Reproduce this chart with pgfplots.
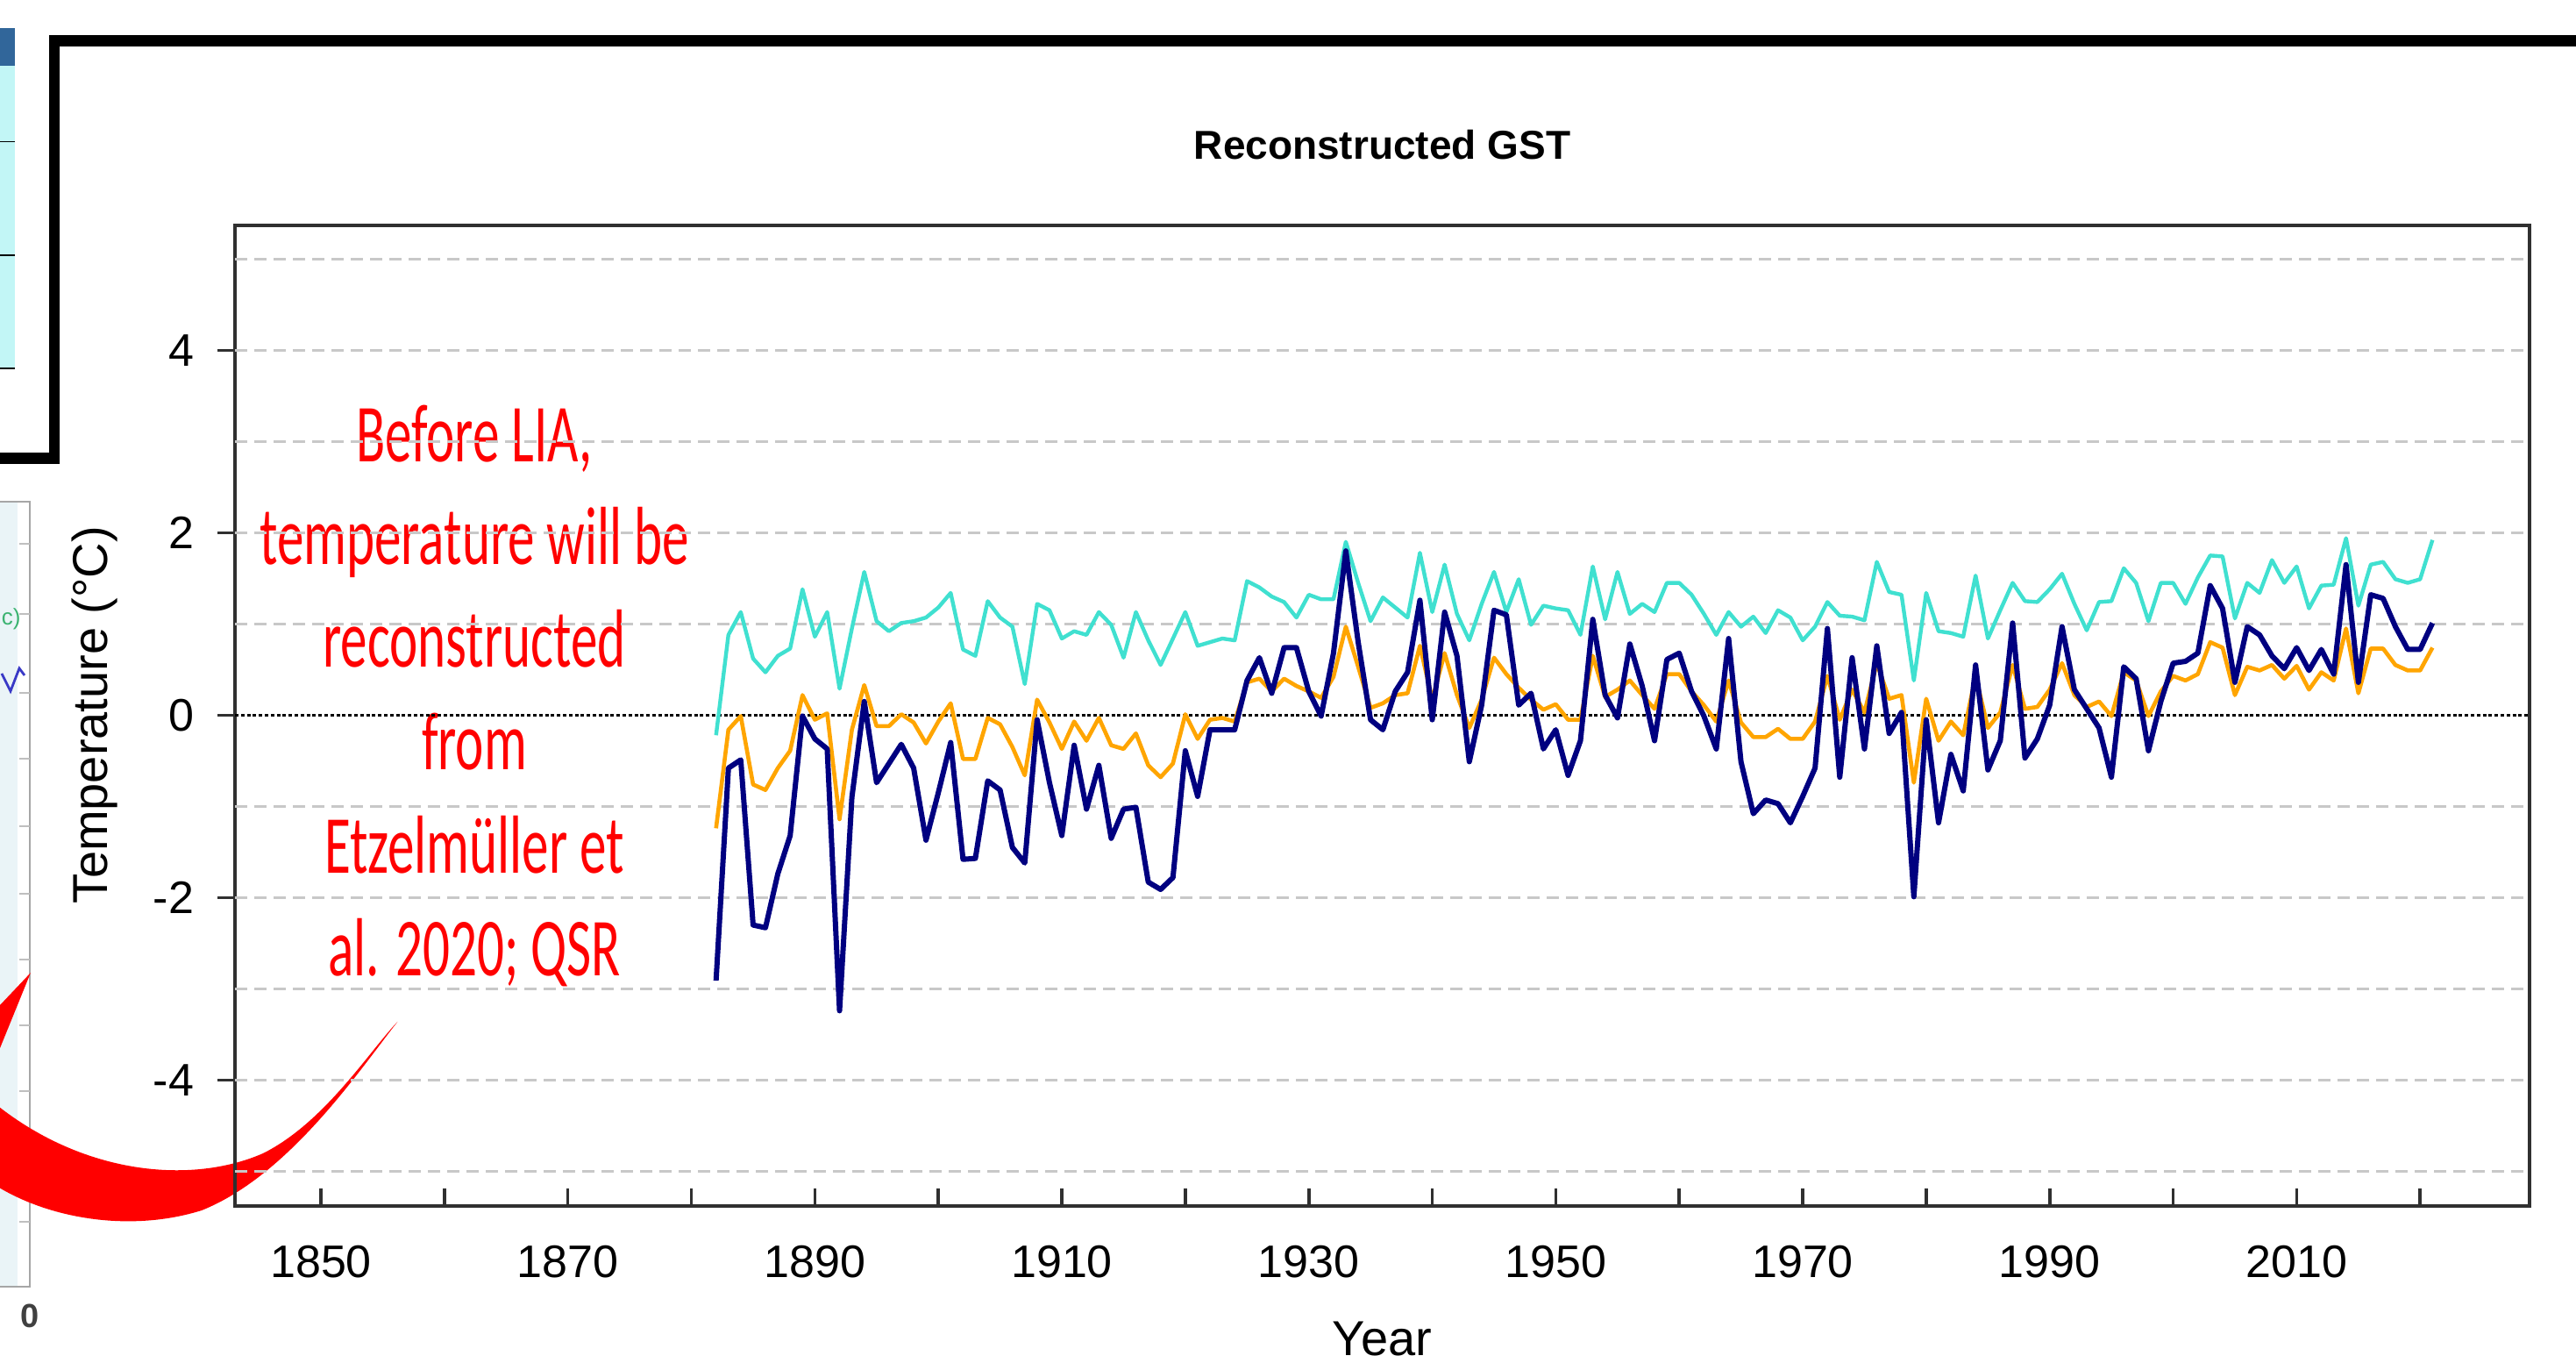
\documentclass[border=0pt]{standalone}
\usepackage{pgfplots}
\pgfplotsset{compat=1.18}
\usepackage{pgfplotstable}
\usepackage{fontspec}
\setmainfont{Liberation Sans}
\newfontfamily\redfont{Carlito}
\definecolor{cturq}{HTML}{40E0D0}
\definecolor{corange}{HTML}{FFA500}
\definecolor{cnavy}{HTML}{000080}
\definecolor{axgray}{HTML}{303030}
\definecolor{gridgray}{HTML}{C8C8C8}
\definecolor{hdrblue}{HTML}{31669A}
\definecolor{cellcyan}{HTML}{C2F6F6}
\definecolor{panelbg}{HTML}{EAF4F7}
\definecolor{cgreen}{HTML}{3CB371}

\pgfplotstableread{
year c o n
1882 -0.22 -1.24 -2.91
1883 0.88 -0.16 -0.58
1884 1.13 -0.01 -0.49
1885 0.62 -0.76 -2.30
1886 0.47 -0.82 -2.33
1887 0.65 -0.58 -1.74
1888 0.73 -0.39 -1.32
1889 1.38 0.22 -0.01
1890 0.86 -0.05 -0.26
1891 1.13 0.02 -0.37
1892 0.29 -1.14 -3.24
1893 0.95 -0.16 -0.90
1894 1.57 0.33 0.15
1895 1.03 -0.12 -0.74
1896 0.92 -0.12 -0.53
1897 1.01 0.01 -0.32
1898 1.03 -0.08 -0.58
1899 1.07 -0.31 -1.37
1900 1.18 -0.07 -0.85
1901 1.34 0.13 -0.30
1902 0.72 -0.48 -1.58
1903 0.65 -0.48 -1.57
1904 1.25 -0.03 -0.72
1905 1.07 -0.10 -0.82
1906 0.97 -0.35 -1.45
1907 0.34 -0.66 -1.62
1908 1.22 0.17 -0.05
1909 1.15 -0.08 -0.74
1910 0.84 -0.37 -1.32
1911 0.92 -0.07 -0.33
1912 0.88 -0.28 -1.03
1913 1.13 -0.03 -0.55
1914 0.99 -0.33 -1.35
1915 0.63 -0.37 -1.03
1916 1.13 -0.20 -1.01
1917 0.82 -0.55 -1.83
1918 0.55 -0.68 -1.91
1919 0.84 -0.53 -1.78
1920 1.13 0.01 -0.39
1921 0.76 -0.26 -0.89
1922 0.80 -0.05 -0.16
1923 0.84 -0.03 -0.16
1924 0.82 -0.07 -0.16
1925 1.47 0.36 0.38
1926 1.40 0.40 0.63
1927 1.30 0.26 0.24
1928 1.24 0.40 0.74
1929 1.07 0.32 0.74
1930 1.32 0.26 0.26
1931 1.27 0.19 -0.01
1932 1.27 0.42 0.68
1933 1.90 0.97 1.80
1934 1.45 0.53 0.80
1935 1.03 0.08 -0.05
1936 1.29 0.13 -0.16
1937 1.18 0.22 0.26
1938 1.07 0.24 0.47
1939 1.78 0.76 1.26
1940 1.13 0.17 -0.05
1941 1.65 0.68 1.13
1942 1.11 0.22 0.65
1943 0.82 -0.14 -0.51
1944 1.22 0.17 0.11
1945 1.57 0.63 1.15
1946 1.13 0.45 1.10
1947 1.49 0.30 0.11
1948 0.99 0.17 0.24
1949 1.20 0.06 -0.37
1950 1.17 0.12 -0.16
1951 1.15 -0.05 -0.66
1952 0.88 -0.05 -0.28
1953 1.63 0.65 1.05
1954 1.05 0.20 0.22
1955 1.57 0.28 -0.03
1956 1.11 0.38 0.78
1957 1.22 0.22 0.32
1958 1.13 0.07 -0.28
1959 1.45 0.45 0.61
1960 1.45 0.45 0.68
1961 1.32 0.26 0.26
1962 1.11 0.11 -0.01
1963 0.88 -0.07 -0.37
1964 1.13 0.38 0.84
1965 0.97 -0.08 -0.51
1966 1.08 -0.24 -1.08
1967 0.90 -0.24 -0.93
1968 1.15 -0.15 -0.97
1969 1.07 -0.26 -1.18
1970 0.82 -0.26 -0.89
1971 0.97 -0.07 -0.58
1972 1.24 0.43 0.95
1973 1.09 -0.05 -0.68
1974 1.08 0.28 0.63
1975 1.04 0.03 -0.37
1976 1.68 0.57 0.76
1977 1.35 0.18 -0.20
1978 1.32 0.22 0.03
1979 0.38 -0.74 -1.99
1980 1.34 0.18 -0.05
1981 0.92 -0.28 -1.18
1982 0.90 -0.07 -0.43
1983 0.86 -0.22 -0.83
1984 1.53 0.43 0.55
1985 0.84 -0.14 -0.60
1986 1.15 0.03 -0.28
1987 1.45 0.55 1.01
1988 1.25 0.07 -0.47
1989 1.24 0.09 -0.26
1990 1.38 0.28 0.11
1991 1.55 0.57 0.97
1992 1.22 0.22 0.28
1993 0.93 0.09 0.07
1994 1.24 0.15 -0.14
1995 1.25 -0.01 -0.68
1996 1.61 0.47 0.53
1997 1.45 0.38 0.40
1998 1.03 -0.01 -0.39
1999 1.45 0.26 0.15
2000 1.45 0.43 0.57
2001 1.22 0.38 0.59
2002 1.51 0.45 0.68
2003 1.75 0.80 1.42
2004 1.74 0.74 1.17
2005 1.06 0.22 0.36
2006 1.45 0.53 0.97
2007 1.34 0.49 0.88
2008 1.70 0.55 0.65
2009 1.45 0.40 0.51
2010 1.63 0.54 0.74
2011 1.17 0.28 0.49
2012 1.42 0.47 0.72
2013 1.43 0.38 0.45
2014 1.94 0.95 1.65
2015 1.20 0.24 0.36
2016 1.65 0.73 1.32
2017 1.68 0.73 1.28
2018 1.49 0.55 0.97
2019 1.45 0.49 0.72
2020 1.49 0.49 0.72
2021 1.92 0.74 1.01
}\gst

\begin{document}
\begin{tikzpicture}
\useasboundingbox (0,0) rectangle (734.5pt,388.5pt);
% ---------- decorations and texts, in pixel units measured from the top left
\begin{scope}[shift={(0pt,388.5pt)}, x=0.25pt, y=-0.25pt]
  % piece of the neighbouring table
  \fill[hdrblue] (0,32.5) rectangle (17,74.6);
  \fill[cellcyan] (0,74.6) rectangle (17,420);
  \draw[black, line width=0.3pt] (0,161.5) -- (17,161.5) (0,291) -- (17,291) (0,420) -- (17,420);
  % black frame
  \draw[black, line width=3.2pt, line join=miter] (-10,522.5) -- (62,522.5) -- (62,46.5) -- (2950,46.5);
  % piece of the neighbouring panel
  \fill[panelbg] (0,572) rectangle (20,1466);
  \draw[gray!70, line width=0.5pt] (0,572) -- (34,572) -- (34,1467) -- (0,1467);
  \foreach \yy in {620,700,790,865,942,1019,1094,1169,1244,1318,1393} \draw[gray!50, line width=0.4pt] (22,\yy) -- (34,\yy);
  \node[text=cgreen, font=\fontsize{6.5}{8}\selectfont, anchor=west, inner sep=0pt] at (1,706) {c)};
  \draw[blue!55!gray, line width=0.7pt] (2,768) -- (12,788) -- (22,762) -- (28,770);
  \node[text=darkgray, font=\bfseries\fontsize{9.5}{11}\selectfont] at (34.5,1500) {0};
  % red curved arrow
  \fill[red] (0,1146) -- (35,1109) -- (0,1195) -- cycle;
  \fill[red] (0,1262.8) .. controls (100,1340) and (220,1350) .. (300,1315)
     .. controls (370,1280) and (420,1200) .. (453.5,1164.8)
     .. controls (410,1220) and (330,1340) .. (230,1380)
     .. controls (150,1405) and (60,1390) .. (0,1354.6) -- cycle;
  % titles
  \node[font=\bfseries\fontsize{11.5}{13}\selectfont, anchor=base] at (1576.5,182) {Reconstructed GST};
  \node[font=\fontsize{14}{16}\selectfont, anchor=base] at (1576.5,1546) {Year};
  \node[font=\fontsize{14}{16}\selectfont, rotate=90] at (108,815) {Temperature (°C)};
  % red annotation
  \foreach \txt/\yy in {{Before LIA,}/527, {temperature will be}/644, {reconstructed}/761, {from}/878, {Etzelmüller et}/996, {al. 2020; QSR}/1113}
    \node[text=red, font=\redfont\fontsize{23.5}{28}\selectfont, anchor=base, xscale=0.65, inner sep=0pt] at (541,\yy) {\txt};
\end{scope}

\begin{axis}[
  at={(67pt,44.75pt)}, anchor=south west,
  scale only axis, width=654.25pt, height=279.55pt,
  xmin=1843.04, xmax=2028.86, ymin=-5.38, ymax=5.37,
  axis line style={axgray, line width=0.9pt},
  every tick/.style={axgray, line width=0.9pt},
  xtick align=inside, ytick align=outside,
  major tick length=5pt,
  xtick pos=bottom, ytick pos=left,
  xtick={1850,1860,...,2020},
  xticklabels={1850,,1870,,1890,,1910,,1930,,1950,,1970,,1990,,2010,},
  ytick={-4,-2,0,2,4},
  yticklabels={-4,-2,0,2,4},
  tick label style={font=\fontsize{13}{15}\selectfont},
  xticklabel style={anchor=base, yshift=-20.5pt},
  yticklabel style={anchor=east, inner sep=0pt, xshift=-6.5pt},
  clip=false,
]
\pgfplotsinvokeforeach{-5,-4,-3,-2,-1,1,2,3,4,5}{
  \draw[gridgray, line width=0.7pt, dash pattern=on 3.5pt off 2pt] (axis cs:1843.04,#1) -- (axis cs:2028.86,#1);
}
\draw[black, line width=0.6pt, dash pattern=on 1pt off 0.7pt] (axis cs:1843.04,0) -- (axis cs:2028.86,0);
\addplot[cturq, line width=1.1pt, line join=round] table[x=year, y=c] {\gst};
\addplot[corange, line width=1.15pt, line join=round] table[x=year, y=o] {\gst};
\addplot[cnavy, line width=1.5pt, line join=round] table[x=year, y=n] {\gst};
\end{axis}
\end{tikzpicture}
\end{document}
